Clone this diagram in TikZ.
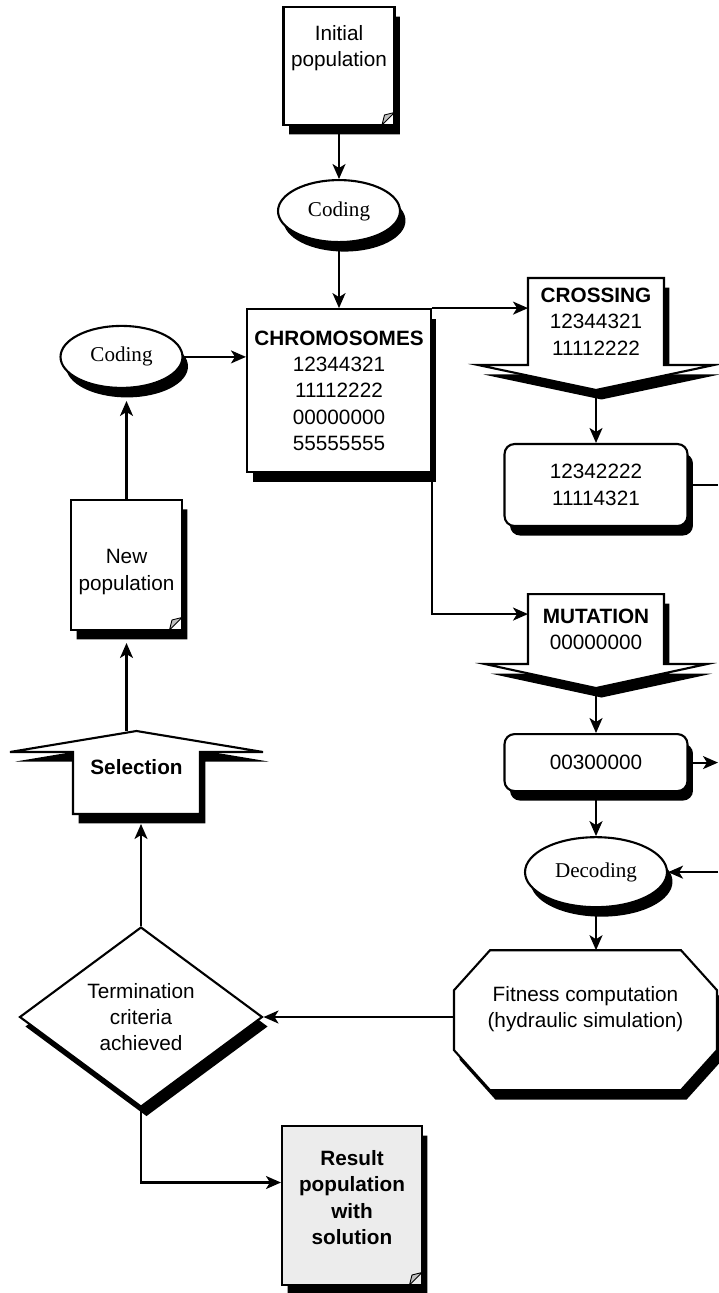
\documentclass[tikz,border=0pt]{standalone}
\usepackage{fontspec}
\setmainfont{Liberation Sans}
\newfontfamily\codingfont{Liberation Serif}
\usetikzlibrary{arrows.meta, positioning, calc, shapes.geometric, shapes.misc, shadows, backgrounds}

% body of a down arrow: node, wing, depth of the point
\newcommand{\chevronpath}[3]{(#1.north west) -- (#1.north east) -- (#1.south east) -- ++(#2,0) -- ($(#1.south)+(0,#3)$) -- ($(#1.south west)+(-#2,0)$) -- (#1.south west) -- cycle}
% body of an up arrow
\newcommand{\uparrowpath}[3]{(#1.south west) -- (#1.north west) -- ++(-#2,0) -- ($(#1.north)+(0,-#3)$) -- ($(#1.north east)+(#2,0)$) -- (#1.north east) -- (#1.south east) -- cycle}
% octagon round a node: node, cut x, cut y
\newcommand{\octpath}[3]{($(#1.north west)+(#2,0)$) -- ($(#1.north east)+(-#2,0)$) -- ($(#1.north east)+(0,#3)$) -- ($(#1.south east)+(0,-#3)$) -- ($(#1.south east)+(-#2,0)$) -- ($(#1.south west)+(#2,0)$) -- ($(#1.south west)+(0,-#3)$) -- ($(#1.north west)+(0,#3)$) -- cycle}

\tikzset{
  every node/.style={font=\fontsize{11.8}{15}\selectfont, align=center},
  boldtext/.style={font=\fontsize{11.8}{15}\selectfont\bfseries},
  blackshadow/.style={drop shadow={shadow xshift=0.11cm, shadow yshift=-0.19cm, fill=black, opacity=1}},
  flow/.style={draw, fill=white, inner sep=0pt, blackshadow},
  box/.style={flow, rectangle},
  roundbox/.style={flow, rectangle, rounded corners=0.2cm},
  docnode/.style={flow, chamfered rectangle, chamfered rectangle corners=south east,
    chamfered rectangle sep=0.24cm,
    path picture={\filldraw[fill=gray!50, line width=0.5pt]
      ($(path picture bounding box.south east)+(-0.25cm,0)$) --
      ($(path picture bounding box.south east)+(-0.2cm,0.2cm)$) --
      ($(path picture bounding box.south east)+(0,0.25cm)$) -- cycle;}},
  coding/.style={flow, ellipse, font=\codingfont\fontsize{12}{14}\selectfont},
  decision/.style={flow, diamond, aspect=1.35},
  body/.style={inner sep=0pt, outer sep=0pt},
  outline/.style={fill=white, line width=1.2pt},
  underlay/.style={fill=black, transform canvas={xshift=0.11cm, yshift=-0.19cm}},
}

\begin{document}
\begin{tikzpicture}[x=0.02cm, y=-0.02cm, line width=1.2pt,
    >={Stealth[length=0.3cm, width=0.26cm, inset=0.08cm]}]
    \useasboundingbox (0,0) rectangle (718,1293);
    % middle column
    \node[docnode, minimum width=2.22cm, minimum height=2.36cm,
          label={[yshift=0.36cm]center:Initial\\population}] (init) at (339,66) {};
    \node[coding, minimum width=2.44cm, minimum height=1.24cm,
          below=1.06cm of init] (cod1) {Coding};
    \node[box, minimum width=3.68cm, minimum height=3.26cm,
          below=1.3cm of cod1] (chrom)
          {\textbf{CHROMOSOMES}\\12344321\\11112222\\00000000\\55555555};
    % right column
    \node[body, minimum width=2.72cm, minimum height=1.74cm] (cross) at (596,321.5)
          {\textbf{CROSSING}\\12344321\\11112222};
    \node[roundbox, minimum width=3.66cm, minimum height=1.64cm,
          below=1.56cm of cross] (crossres) {12342222\\11114321};
    \node[body, minimum width=2.72cm, minimum height=1.4cm,
          below=1.34cm of crossres] (mut) {\textbf{MUTATION}\\00000000};
    \node[roundbox, minimum width=3.66cm, minimum height=1.14cm,
          below=1.38cm of mut] (mutres) {00300000};
    \node[coding, minimum width=2.84cm, minimum height=1.4cm,
          below=0.88cm of mutres] (dec) {Decoding};
    \node[body, minimum width=5.26cm, minimum height=2.8cm,
          below=0.84cm of dec, xshift=-0.21cm,
          label={[yshift=0.22cm]center:Fitness computation\\(hydraulic simulation)}] (fit) {};
    % left column
    \node[decision, minimum width=4.86cm, minimum height=3.6cm] (term) at (141,1017)
          {Termination\\criteria\\achieved};
    \node[body, minimum width=2.54cm, minimum height=1.24cm,
          above=2.24cm of term, xshift=-0.09cm,
          label={[boldtext, yshift=0.32cm]center:Selection}] (sel) {};
    \node[docnode, minimum width=2.22cm, minimum height=2.6cm,
          above=2.42cm of sel, xshift=-0.2cm,
          label={[yshift=-0.14cm]center:New\\population}] (newpop) {};
    \node[coding, minimum width=2.44cm, minimum height=1.24cm,
          above=2.2cm of newpop, xshift=-0.1cm] (cod2) {Coding};
    \node[docnode, fill=gray!15, minimum width=2.8cm, minimum height=3.18cm,
          label={[boldtext, yshift=0.16cm]center:Result\\population\\with\\solution}] (result) at (352,1205.5) {};

    \begin{scope}[on background layer]
        \fill[underlay] \chevronpath{cross}{50}{25};
        \filldraw[outline] \chevronpath{cross}{50}{25};
        \fill[underlay] \chevronpath{mut}{43}{24};
        \filldraw[outline] \chevronpath{mut}{43}{24};
        \fill[underlay] \uparrowpath{sel}{63}{21};
        \filldraw[outline] \uparrowpath{sel}{63}{21};
        \fill[underlay] \octpath{fit}{36}{40};
        \filldraw[outline] \octpath{fit}{36}{40};
    \end{scope}

    \coordinate (crosstip) at ($(cross.south)+(0,25)$);
    \coordinate (muttip) at ($(mut.south)+(0,24)$);
    \coordinate (selpeak) at ($(sel.north)+(0,-21)$);
    \coordinate (rim) at (718,0);

    \draw[->] (init) -- (cod1);
    \draw[->] (cod1) -- (chrom);
    \draw[->] (chrom.north east) -- (chrom.north east -| cross.west);
    \draw[->] (chrom.south east) |- ($(mut.north west)+(0,20)$);
    \draw[->] (crosstip) -- (crossres);
    \draw[->] (muttip) -- (mutres);
    \draw[->] (mutres) -- (dec);
    \draw[->] (dec.south) -- (dec.south |- fit.north);
    \draw[->] (fit.west |- term.east) -- (term.east);
    \draw[->] (term.north) -- ($(term.north |- sel.south)+(0,10)$);
    \draw[->] (newpop.south |- selpeak) -- ($(newpop.south)+(0,12)$);
    \draw[->] (newpop.north) -- ($(newpop.north |- cod2.south)+(0,12)$);
    \draw[->] (cod2.east) -- (cod2.east -| chrom.west);
    \draw[->] (term.south) |- ($(result.west)+(0,-23)$);
    \draw (crossres.east) -- (crossres.east -| rim);
    \draw[->] (mutres.east) -- (mutres.east -| rim);
    \draw[->] (dec.east -| rim) -- (dec.east);
\end{tikzpicture}
\end{document}
